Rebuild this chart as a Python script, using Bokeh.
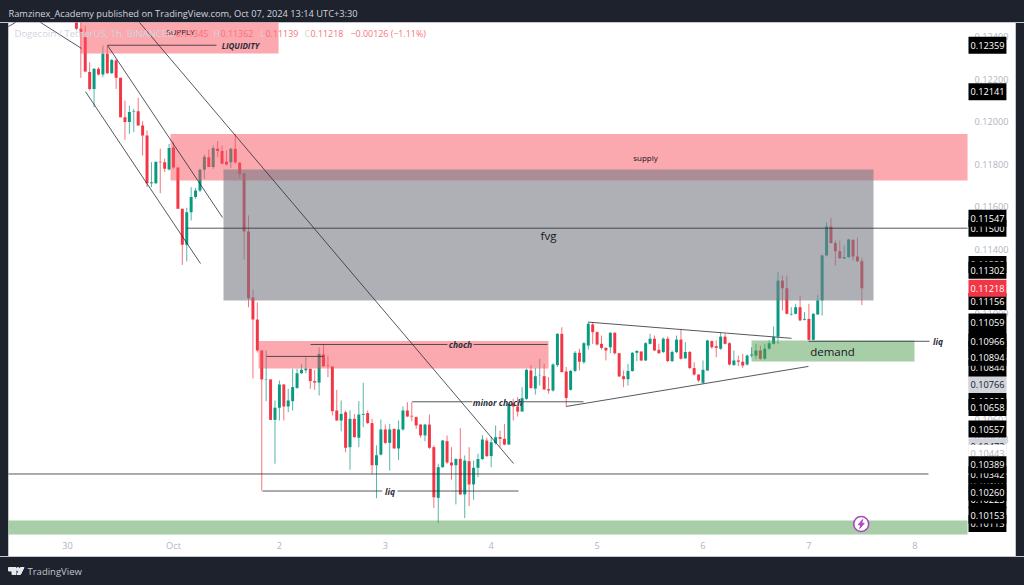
from bokeh.plotting import figure
from bokeh.models import Range1d, FixedTicker, NumeralTickFormatter, Label
from bokeh.embed import file_html
from bokeh.resources import INLINE
import numpy as np

# Hourly candles of DOGE/USDT, first one on Sep 30 02:00 (x in days, Oct 1 00:00 = 1)
first_day = 1 - 22 / 24
opens = [0.12466,0.12436,0.12397,0.12233,0.12154,0.12248,0.12222,0.12319,0.12228,0.12287,0.12206,0.12021,0.11998,0.12045,0.12049,0.11982,0.11935,0.11711,0.11711,0.11812,0.11810,0.11776,0.11879,0.11785,0.11591,0.11422,0.11575,0.11646,0.11677,0.11774,0.11833,0.11787,0.11873,0.11862,0.11812,0.11810,0.11873,0.11807,0.11758,0.11484,0.11174,0.11071,0.10926,
0.10790,0.10790,0.10600,0.10657,0.10766,0.10663,0.10688,0.10750,0.10819,0.10833,0.10840,0.10782,0.10775,0.10907,0.10855,0.10851,0.10644,0.10597,0.10636,0.10472,0.10605,0.10516,0.10624,0.10632,0.10585,0.10387,0.10437,0.10555,0.10492,0.10558,0.10466,0.10555,0.10644,0.10619,0.10613,0.10578,0.10527,0.10578,0.10472,0.10234,0.10378,0.10500,0.10400,0.10387,0.10417,0.10250,0.10406,0.10297,0.10375,0.10416,0.10503,0.10430,0.10491,0.10519,0.10511,0.10484,0.10676,0.10663,0.10639,0.10699,0.10832,0.10747,0.10807,0.10805,0.10744,
0.10738,0.10857,0.11004,0.10827,0.10741,0.10830,0.10915,0.10871,0.10949,0.11048,0.11012,0.10957,0.10938,0.10941,0.11009,0.10913,0.10805,0.10791,0.10829,0.10915,0.10921,0.10879,0.10957,0.10981,0.10929,0.10918,0.10981,0.10876,0.10918,0.10977,0.10889,0.10919,0.10843,0.10813,0.10774,0.10832,0.10970,0.10946,0.10934,0.10991,0.10960,0.10857,0.10879,0.10873,0.10860,0.10902,0.10902,0.10926,0.10887,0.10934,0.10957,0.10991,0.11254,0.11218,0.11095,0.11098,0.11129,0.11070,0.11074,0.10976,0.11095,0.11161,0.11372,0.11508,0.11431,0.11392,0.11358,0.11364,0.11445,0.11367,0.11345]
highs = [0.12466,0.12466,0.12450,0.12279,0.12251,0.12256,0.12358,0.12358,0.12295,0.12295,0.12206,0.12099,0.12076,0.12060,0.12112,0.12002,0.11959,0.11810,0.11812,0.11873,0.11826,0.11896,0.11904,0.11785,0.11591,0.11596,0.11693,0.11688,0.11779,0.11846,0.11869,0.11888,0.11909,0.11888,0.11865,0.11877,0.11943,0.11810,0.11758,0.11560,0.11212,0.11151,0.10926,
0.10926,0.10790,0.10691,0.10785,0.10769,0.10746,0.10840,0.10840,0.10863,0.10894,0.10841,0.10835,0.10941,0.10957,0.10902,0.10851,0.10741,0.10691,0.10644,0.10644,0.10628,0.10688,0.10774,0.10644,0.10605,0.10480,0.10602,0.10578,0.10581,0.10558,0.10597,0.10663,0.10683,0.10683,0.10616,0.10581,0.10581,0.10625,0.10480,0.10394,0.10506,0.10527,0.10472,0.10417,0.10561,0.10433,0.10472,0.10409,0.10441,0.10529,0.10516,0.10522,0.10574,0.10550,0.10581,0.10676,0.10699,0.10707,0.10754,0.10840,0.10858,0.10844,0.10887,0.10863,0.10801,
0.10866,0.11007,0.11035,0.10848,0.10835,0.10923,0.10934,0.10965,0.11059,0.11059,0.11015,0.10996,0.10941,0.11012,0.11012,0.10913,0.10832,0.10863,0.10918,0.10926,0.10921,0.10965,0.11004,0.10996,0.10957,0.10988,0.10991,0.10926,0.10996,0.11027,0.10965,0.10923,0.10871,0.10813,0.10879,0.10976,0.10973,0.10973,0.11010,0.11004,0.10965,0.10926,0.10902,0.10910,0.10907,0.10941,0.10957,0.10949,0.10957,0.10973,0.11038,0.11294,0.11278,0.11278,0.11129,0.11145,0.11184,0.11106,0.11145,0.11101,0.11187,0.11375,0.11528,0.11549,0.11442,0.11442,0.11419,0.11450,0.11450,0.11455,0.11362]
lows = [0.12430,0.12206,0.12233,0.12146,0.12068,0.12217,0.12209,0.12225,0.12225,0.12154,0.12021,0.11915,0.11943,0.11951,0.11982,0.11841,0.11693,0.11693,0.11708,0.11664,0.11763,0.11771,0.11779,0.11591,0.11328,0.11344,0.11536,0.11638,0.11669,0.11732,0.11787,0.11779,0.11833,0.11802,0.11794,0.11783,0.11802,0.11735,0.11353,0.11129,0.10794,0.10916,0.10268,
0.10688,0.10600,0.10394,0.10597,0.10597,0.10636,0.10644,0.10746,0.10816,0.10819,0.10746,0.10741,0.10714,0.10848,0.10801,0.10621,0.10597,0.10547,0.10448,0.10366,0.10516,0.10472,0.10566,0.10581,0.10344,0.10232,0.10433,0.10487,0.10362,0.10464,0.10412,0.10550,0.10613,0.10594,0.10558,0.10516,0.10500,0.10464,0.10187,0.10115,0.10375,0.10394,0.10319,0.10203,0.10248,0.10139,0.10195,0.10225,0.10331,0.10412,0.10425,0.10378,0.10484,0.10472,0.10481,0.10484,0.10597,0.10616,0.10641,0.10694,0.10746,0.10719,0.10761,0.10741,0.10723,
0.10733,0.10848,0.10824,0.10663,0.10738,0.10824,0.10832,0.10863,0.10930,0.10957,0.10949,0.10930,0.10879,0.10913,0.10907,0.10801,0.10754,0.10761,0.10827,0.10876,0.10876,0.10876,0.10954,0.10923,0.10910,0.10915,0.10871,0.10871,0.10913,0.10883,0.10887,0.10840,0.10808,0.10777,0.10769,0.10829,0.10934,0.10894,0.10929,0.10954,0.10855,0.10855,0.10852,0.10844,0.10855,0.10894,0.10887,0.10882,0.10883,0.10930,0.10954,0.10957,0.11114,0.11095,0.11090,0.11095,0.11063,0.11067,0.10973,0.10973,0.11092,0.11090,0.11367,0.11427,0.11325,0.11356,0.11355,0.11361,0.11348,0.11340,0.11139]
closes = [0.12436,0.12417,0.12236,0.12154,0.12248,0.12222,0.12319,0.12228,0.12290,0.12206,0.12021,0.11998,0.12045,0.12048,0.11982,0.11935,0.11711,0.11716,0.11812,0.11809,0.11779,0.11876,0.11785,0.11591,0.11422,0.11575,0.11646,0.11677,0.11774,0.11835,0.11787,0.11877,0.11862,0.11802,0.11799,0.11873,0.11810,0.11755,0.11484,0.11171,0.11071,0.10926,0.10790,
0.10792,0.10600,0.10657,0.10766,0.10663,0.10691,0.10754,0.10819,0.10835,0.10841,0.10782,0.10775,0.10910,0.10852,0.10853,0.10641,0.10597,0.10628,0.10469,0.10605,0.10519,0.10625,0.10628,0.10585,0.10387,0.10434,0.10555,0.10492,0.10555,0.10466,0.10555,0.10644,0.10616,0.10616,0.10574,0.10527,0.10578,0.10469,0.10237,0.10378,0.10503,0.10400,0.10386,0.10417,0.10250,0.10409,0.10297,0.10375,0.10416,0.10508,0.10430,0.10495,0.10519,0.10511,0.10484,0.10676,0.10663,0.10639,0.10702,0.10835,0.10750,0.10805,0.10808,0.10743,0.10738,
0.10860,0.11004,0.10824,0.10703,0.10830,0.10915,0.10873,0.10960,0.11051,0.11012,0.10954,0.10938,0.10926,0.11009,0.10913,0.10804,0.10791,0.10830,0.10915,0.10924,0.10879,0.10960,0.10981,0.10926,0.10913,0.10981,0.10876,0.10919,0.10977,0.10887,0.10919,0.10843,0.10813,0.10785,0.10835,0.10973,0.10941,0.10938,0.10991,0.10957,0.10860,0.10879,0.10873,0.10855,0.10902,0.10907,0.10926,0.10887,0.10934,0.10960,0.10988,0.11254,0.11218,0.11098,0.11098,0.11129,0.11067,0.11074,0.10976,0.11098,0.11161,0.11372,0.11508,0.11430,0.11392,0.11359,0.11364,0.11447,0.11367,0.11345,0.11218]

# Rectangles drawn on the chart: (day from, day to, price low, price high)
supply_top = (0.122, 1.992, 0.12320, 0.12466)
supply_main = (0.972, 8.498, 0.11724, 0.11942)
choch_zone = (1.803, 4.541, 0.10841, 0.10970)
fvg_zone = (1.472, 7.610, 0.11160, 0.11776)
demand_zone = (6.458, 7.997, 0.10874, 0.10973)
bottom_zone = (-0.558, 8.498, 0.10062, 0.10128)

# Trend lines and levels: (day1, price1, day2, price2)
trend_lines = [
    (-0.558, 0.12447, -0.492, 0.12466),
    (-0.256, 0.12466, 0.131, 0.12344),
    (0.377, 0.12358, 1.463, 0.11550),
    (0.169, 0.12141, 1.255, 0.11334),
    (0.679, 0.12466, 4.211, 0.10395),
    (0.377, 0.12359, 1.406, 0.12359),
    (1.123, 0.11500, 8.498, 0.11500),
    (-0.558, 0.10346, 8.129, 0.10346),
    (1.840, 0.10266, 2.971, 0.10266),
    (3.115, 0.10266, 4.258, 0.10266),
    (2.294, 0.10954, 3.587, 0.10954),
    (3.833, 0.10954, 4.532, 0.10954),
    (1.878, 0.10898, 2.416, 0.10898),
    (3.254, 0.10685, 3.823, 0.10685),
    (4.296, 0.10685, 4.872, 0.10685),
    (4.916, 0.11059, 6.836, 0.10983),
    (4.708, 0.10663, 6.996, 0.10851),
    (6.996, 0.10969, 8.139, 0.10969),
]

price_ticks = [0.124, 0.122, 0.120, 0.118, 0.116, 0.114, 0.11099, 0.10601, 0.10508]
day_ticks = [0, 1, 2, 3, 4, 5, 6, 7, 8]
day_labels = ["30", "Oct", "2", "3", "4", "5", "6", "7", "8"]

# price-scale badges, in the order they are stacked (later ones lie on top)
covered_black = [0.11330, 0.10982, 0.10930, 0.10686, 0.10301, 0.10225]
covered_grey = [0.10785]
black_badges = [0.10113, 0.10153, 0.10260, 0.10342, 0.10389, 0.10557, 0.10658, 0.10844, 0.10894,
                0.10966, 0.11059, 0.11156, 0.11302, 0.11500, 0.11547, 0.12141, 0.12359]
grey_badges = [0.10766, 0.10473]
white_badges = [0.10443]
red_badges = [0.11218]

DARK = "#1e222d"
EDGE = "#c4c7cf"
FONT = "Open Sans"
GREEN, RED = "#089981", "#f23645"

# chart pixel <-> value helpers for the furniture placed around the chart
def day(px):
    return 1 + (px - 173) / 105.9

def price(py):
    return 0.12569 - 0.00004695 * py

p = figure(width=1024, height=585, output_backend="svg", toolbar_location=None,
           x_range=Range1d(day(0), day(1024)), y_range=Range1d(price(585), price(0)),
           y_axis_location="right", min_border_left=0, min_border_right=0,
           min_border_top=0, min_border_bottom=0)
p.styles = {
    "position": "fixed", "left": "0", "top": "0",
    "background": f"linear-gradient({DARK} 0 22px, {EDGE} 22px 23px, transparent 23px 556px, {EDGE} 556px 557px, {DARK} 557px), "
                  f"linear-gradient(90deg, {DARK} 0 8px, {EDGE} 8px 9px, white 9px 1015px, {EDGE} 1015px 1016px, {DARK} 1016px)",
}
p.background_fill_color = None
p.border_fill_color = None
p.outline_line_color = None
p.grid.visible = False

for ax in (p.xaxis[0], p.yaxis[0]):
    ax.axis_line_color = None
    ax.major_tick_line_color = None
    ax.minor_tick_line_color = None
    ax.major_tick_out = 0
    ax.major_tick_in = 0
    ax.major_label_text_color = "#b2b5be"
    ax.major_label_text_font = FONT
    ax.major_label_text_font_size = "9.2px"
p.xaxis[0].ticker = FixedTicker(ticks=day_ticks)
p.xaxis[0].major_label_overrides = dict(zip(day_ticks, day_labels))
p.xaxis[0].major_label_standoff = -47
p.yaxis[0].ticker = FixedTicker(ticks=price_ticks)
p.yaxis[0].formatter = NumeralTickFormatter(format="0.00000")
p.yaxis[0].major_label_standoff = -50

# candles
x = first_day + np.arange(len(opens)) / 24
o, h, l, c = map(np.array, (opens, highs, lows, closes))
up = c >= o
colors = np.where(up, GREEN, RED).tolist()
p.segment(x, h, x, l, color=colors, line_width=1, line_alpha=0.7)
p.vbar(x, width=0.028, top=np.maximum(o, c), bottom=np.minimum(o, c), fill_color=colors, line_color=None)

# zones
def zone(z, color, alpha):
    p.quad(left=z[0], right=z[1], bottom=z[2], top=z[3], fill_color=color, fill_alpha=alpha, line_color=None)

zone(supply_top, "#f7525f", 0.5)
zone(supply_main, "#f7525f", 0.5)
zone(choch_zone, "#f7525f", 0.5)
zone(fvg_zone, "#787b86", 0.6)
zone(demand_zone, "#519e51", 0.5)
zone(bottom_zone, "#519e51", 0.5)

# drawn lines
tl = list(zip(*trend_lines))
p.segment(tl[0], tl[1], tl[2], tl[3], line_color="#2a2e39", line_width=1, line_alpha=0.8)

# event icon
p.scatter([day(860.7)], [price(523.5)], size=15, marker="circle", fill_color="white",
          line_color="#ab47bc", line_width=1.6)
bolt = [(1.5, -4.5), (-3, 0.8), (-0.3, 0.8), (-1.5, 4.5), (3, -0.8), (0.3, -0.8)]
p.patch([day(860.7 + a) for a, b in bolt], [price(523.5 + b) for a, b in bolt], color="#ab47bc")

# TradingView logo
LOGO = "#e8e9ee"
for shape in ([(8, 567), (15.5, 567), (15.5, 574), (11.5, 574), (11.5, 570.5), (8, 570.5)],
              [(20, 567), (23.5, 567), (20, 574), (16.5, 574)]):
    p.patch([day(a) for a, b in shape], [price(b) for a, b in shape], color=LOGO)
p.scatter([day(17.6)], [price(568.7)], size=3.4, marker="circle", color=LOGO)

def text(px, py, s, size, color="#131722", align="center", style="normal", baseline="middle"):
    p.add_layout(Label(x=day(px), y=price(py), text=s, text_font=FONT,
                       text_font_size=f"{size}px", text_color=color, text_align=align,
                       text_baseline=baseline, text_font_style=style))

# texts on the chart
INK = "#2a2e39"
text(645, 157, "supply", 8)
text(548, 234.5, "fvg", 11.5)
text(832, 351, "demand", 11.5)
text(460, 344, "choch", 8.5, INK, style="bold italic")
text(497, 402, "minor choch", 8.5, INK, style="bold italic")
text(389.5, 490.5, "liq", 8.5, INK, style="bold italic")
text(937.5, 341, "liq", 8.5, INK, style="bold italic")
text(180, 31, "SUPPLY", 8)
text(240, 45, "LIQUIDITY", 8, INK, style="bold italic")

# legend line
LEG = "#d1d4dc"
LRED = "#f7717c"
text(14, 33, "Dogecoin / TetherUS, 1h, BINANCE", 9.5, LEG, "left")
for px, s, col in [(167, "O", LEG), (175, "0.11345", LRED), (213, "H", LEG), (220, "0.11362", LRED),
                   (260, "L", LEG), (265, "0.11139", LRED), (304, "C", LEG), (310, "0.11218", LRED),
                   (350, "\u22120.00126 (\u22121.11%)", LRED)]:
    text(px, 33, s, 8.9, col, "left")

text(8, 12.5, "Ramzinex_Academy published on TradingView.com, Oct 07, 2024 13:14 UTC+3:30", 9.28, "#d1d4dc", "left")
text(27, 571, "TradingView", 9.5, "#c2c5ce", "left")

# price badges
def badge(v, bg, fg):
    p.add_layout(Label(x=day(968), y=v, text=f"{v:.5f}", text_font=FONT, text_font_size="9.2px",
                       text_color=fg, text_align="left", text_baseline="middle",
                       background_fill_color=bg, padding=(2, 5)))

for v in covered_grey:
    badge(v, "#d1d4dc", "#131722")
for v in covered_black:
    badge(v, "#000000", "#ffffff")
for v in grey_badges:
    badge(v, "#d1d4dc", "#131722")
for v in white_badges:
    badge(v, "#ffffff", "#b2b5be")
for v in black_badges:
    badge(v, "#000000", "#ffffff")
for v in red_badges:
    badge(v, RED, "#ffffff")

open("out.html", "w").write(file_html(p, INLINE))
